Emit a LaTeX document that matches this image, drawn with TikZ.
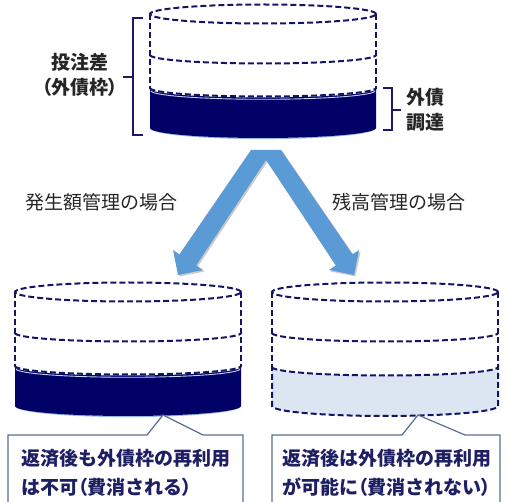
\documentclass[tikz,border=0pt]{standalone}
\usepackage{fontspec}
\setmainfont{Noto Sans CJK JP}
\newfontfamily\jpp[RawFeature=+palt]{Noto Sans CJK JP}
\usetikzlibrary{shadows}
\definecolor{navy}{RGB}{0,0,102}
\definecolor{dashnavy}{RGB}{20,20,100}
\definecolor{bracketnavy}{RGB}{25,25,110}
\definecolor{lightband}{RGB}{220,230,242}
\definecolor{arrowblue}{RGB}{91,155,213}
\definecolor{boxedge}{RGB}{90,110,150}
\definecolor{boxtext}{RGB}{30,30,100}
\definecolor{rimblue}{RGB}{150,185,230}
\newcommand\jlp{{\jpp （}}
\newcommand\jrp{{\jpp ）}}
\tikzset{
  dashline/.style={draw=dashnavy, line width=2pt, dash pattern=on 6pt off 3pt},
  bracketline/.style={draw=bracketnavy, line width=2.5pt},
  lbl/.style={inner sep=0pt, font=\fontsize{19}{25}\selectfont, text=black!85},
  boxlbl/.style={inner sep=0pt, font=\bfseries\fontsize{19}{29}\selectfont, text=boxtext, align=left, anchor=west},
  callout/.style={fill=white, draw=boxedge, line width=1.2pt},
  cylframe/.pic={
    \draw[dashline] (0,0) ellipse [x radius=113pt, y radius=9.5pt];
    \draw[dashline] (-113,0) -- (-113,75) (113,0) -- (113,75);
    \draw[dashline] (-113,41) arc[start angle=180, end angle=360, x radius=113pt, y radius=8.5pt];
  },
  darkband/.pic={
    \draw[rimblue, line width=1.2pt] (-112,114) arc[start angle=180, end angle=360, x radius=112pt, y radius=10.5pt];
    \fill[navy] (-113,75) arc[start angle=180, end angle=360, x radius=113pt, y radius=8.5pt] -- (113,114) arc[start angle=0, end angle=-180, x radius=113pt, y radius=10pt] -- cycle;
    \draw[rimblue!60!white, line width=0.9pt] (-112,76.8) arc[start angle=180, end angle=360, x radius=112pt, y radius=8.5pt];
    \draw[dashline] (-113,74) arc[start angle=180, end angle=360, x radius=113pt, y radius=8.5pt];
  },
  lightbandpic/.pic={
    \fill[lightband] (-113,75) arc[start angle=180, end angle=360, x radius=113pt, y radius=8.5pt] -- (113,114) arc[start angle=0, end angle=-180, x radius=113pt, y radius=10pt] -- cycle;
    \draw[dashline] (-113,75) arc[start angle=180, end angle=360, x radius=113pt, y radius=8.5pt] -- (113,114) arc[start angle=0, end angle=-180, x radius=113pt, y radius=10pt] -- cycle;
  }
}
\begin{document}
\begin{tikzpicture}[x=1pt, y=-1pt]
\useasboundingbox (0,0) rectangle (509,502);

% top cylinder
\pic at (263,14) {darkband};
\pic at (263,14) {cylframe};

% brackets
\draw[bracketline] (143,18) -- (133,18) -- (133,135) -- (143,135);
\draw[bracketline] (133,77) -- (123,77);
\draw[bracketline] (383,88) -- (392,88) -- (392,130) -- (383,130);
\draw[bracketline] (392,110) -- (401,110);

\node[lbl, align=center] (diff) at (80,74.5) {\bfseries 投注差\\\bfseries \jlp 外債枠\jrp};
\node[lbl, align=left, anchor=west] (fund) at (406,110) {\bfseries 外債\\\bfseries 調達};

% chevron arrow
\fill[arrowblue, drop shadow={opacity=0.35, shadow xshift=1.5pt, shadow yshift=-1.5pt, fill=black!60}]
  (251,150) -- (281,150) -- (352.6,254.4) -- (359,250) -- (354,275) -- (329,270) -- (335.8,265.4)
  -- (266,160) -- (196.2,265.4) -- (203,270) -- (178,275) -- (173,250) -- (179.4,254.4) -- cycle;

\node[lbl] (gen) at (101.5,202) {発生額管理の場合};
\node[lbl] (bal) at (399,202) {残高管理の場合};

% bottom cylinders
\pic at (128,292) {darkband};
\pic at (128,292) {cylframe};
\pic at (385,292) {lightbandpic};
\pic at (385,292) {cylframe};

% callouts
\draw[callout] (8,435) -- (147,435) -- (163,415) -- (203,435) -- (243,435) -- (243,512) -- (8,512) -- cycle;
\draw[callout] (272,435) -- (402,435) -- (418,415) -- (465,435) -- (500,435) -- (500,512) -- (272,512) -- cycle;

\node[boxlbl] (leftnote) at (21,472.5) {返済後も外債枠の再利用\\は不可\jlp 費消される\jrp};
\node[boxlbl] (rightnote) at (282,472.5) {返済後は外債枠の再利用\\が可能に\jlp 費消されない\jrp};
\end{tikzpicture}
\end{document}
